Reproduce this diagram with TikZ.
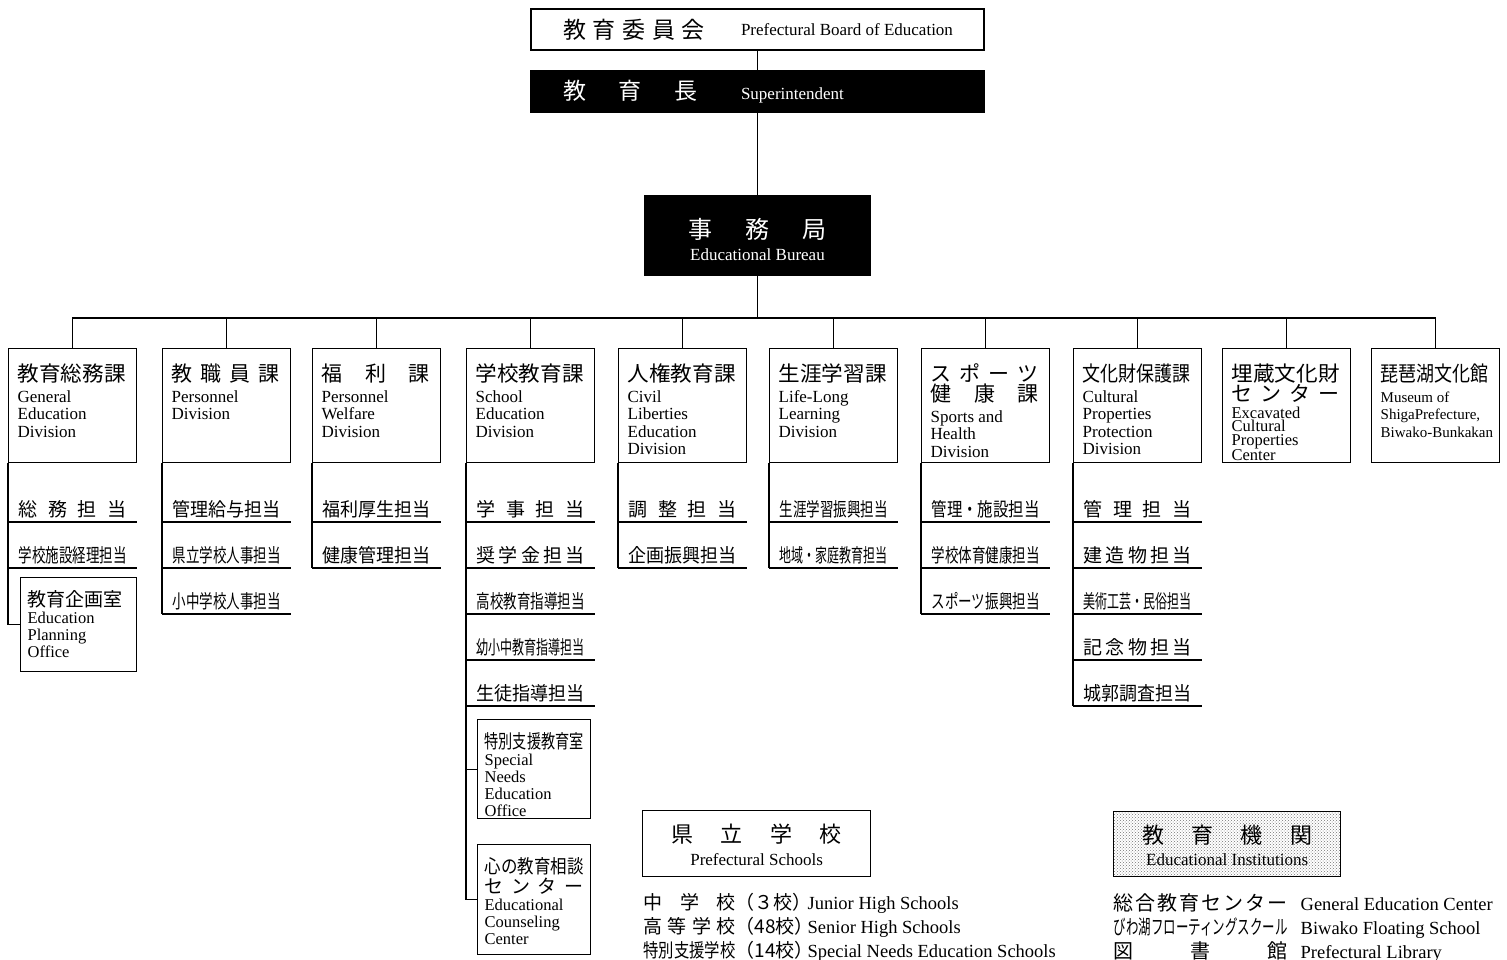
\documentclass[tikz,border=0pt]{standalone}
\usepackage{fontspec}
\setmainfont{Liberation Serif}
\newfontfamily\jp{Noto Sans CJK JP}
\usepackage{graphicx}
\usetikzlibrary{patterns}

% squeeze or spread a Japanese label to a given width
\newcommand{\fitjp}[2][108pt]{\resizebox{#1}{\height}{#2}}
\newcommand{\spreadjp}[2][108pt]{\makebox[#1][s]{#2}}
% text of a division box and of an office box
\newcommand{\divtext}[2]{\parbox[t][114pt][t]{110pt}{\raggedright
  \jp\fontsize{21}{20}\selectfont\rule{0pt}{33pt}#1\par\vspace{3pt}
  \rmfamily\fontsize{17}{17.5}\selectfont #2}}
\newcommand{\officetext}[4][99pt]{\parbox[t][#2][t]{#1}{\raggedright
  \jp\fontsize{19}{20}\selectfont\rule{0pt}{29pt}#3\par
  \rmfamily\fontsize{16.5}{17}\selectfont #4}}

\begin{document}
\begin{tikzpicture}[x=1pt,y=-1pt,line width=1.3pt,
  head/.style={draw,minimum width=453pt,minimum height=41pt,inner sep=0pt},
  divbox/.style={draw,anchor=north west,inner xsep=9pt,inner ysep=0pt},
  duty/.style={anchor=south west,minimum width=128pt,inner xsep=10pt,inner ysep=3pt,
    font=\jp\fontsize{19}{19}\selectfont},
  office/.style={draw,anchor=north west,inner xsep=7pt,inner ysep=0pt},
  listrow/.style={anchor=base west,inner sep=0pt,font=\fontsize{18.5}{20}\selectfont}]
\useasboundingbox (0,0) rectangle (1507,960);

% board, superintendent, bureau
\node[head] (board) at (757.5,29.5) {\makebox[389pt][l]{\jp\fontsize{23}{23}\selectfont
  \spreadjp[142pt]{教\hfill 育\hfill 委\hfill 員\hfill 会}\hspace{36pt}\rmfamily
  \fontsize{17}{17}\selectfont\raisebox{3pt}{Prefectural Board of Education}}};
\node[head,fill=black,text=white] (supt) at (757.5,91.5) {\makebox[389pt][l]{\jp
  \fontsize{23}{23}\selectfont\spreadjp[134pt]{教\hfill 育\hfill 長}\hspace{44pt}\rmfamily
  \fontsize{17}{17}\selectfont Superintendent}};
\node[draw,fill=black,text=white,inner sep=0pt] (bureau) at (757.5,235.5)
  {\parbox[t][79pt][t]{225pt}{\centering\jp\fontsize{24}{24}\selectfont\rule{0pt}{42pt}%
  \spreadjp[138pt]{事\hfill 務\hfill 局}\par\rmfamily\fontsize{17}{22}\selectfont
  Educational Bureau}};
\coordinate (bus) at (757.5,318);
\draw (board) -- (supt);
\draw (supt) -- (bureau);
\draw (bureau) -- (bus);

% divisions
\node[divbox] (gen) at (8,348) {\divtext{\fitjp{教育総務課}}{General\\Education\\Division}};
\node[divbox] (pers) at (162,348) {\divtext{\spreadjp{教\hfill 職\hfill 員\hfill 課}}{Personnel\\Division}};
\node[divbox] (welf) at (312,348) {\divtext{\spreadjp{福\hfill 利\hfill 課}}{Personnel\\Welfare\\Division}};
\node[divbox] (school) at (466,348) {\divtext{\fitjp{学校教育課}}{School\\Education\\Division}};
\node[divbox] (civil) at (618,348) {\divtext{\fitjp{人権教育課}}{Civil\\Liberties\\Education\\Division}};
\node[divbox] (life) at (769,348) {\divtext{\fitjp{生涯学習課}}{Life-Long\\Learning\\Division}};
\node[divbox] (sport) at (921,348) {\divtext{\spreadjp{ス\hfill ポ\hfill ー\hfill ツ}\\
  \spreadjp{健\hfill 康\hfill 課}}{Sports and\\Health\\Division}};
\node[divbox] (cult) at (1073,348) {\divtext{\fitjp{文化財保護課}}{Cultural\\Properties\\Protection\\Division}};
\node[divbox] (exc) at (1222,348) {\divtext{\fitjp{埋蔵文化財}\\\spreadjp{セ\hfill ン\hfill タ\hfill ー}}
  {\fontsize{16.5}{13.5}\selectfont Excavated\\Cultural\\Properties\\Center}};
\node[divbox] (mus) at (1371,348) {\divtext{\fitjp{琵琶湖文化館}}
  {\fontsize{15}{17.5}\selectfont Museum of\\ShigaPrefecture,\\\mbox{Biwako-Bunkakan}}};
\draw (gen.north) -- (gen.north |- bus) -- (mus.north |- bus) -- (mus.north);
\foreach \d in {pers,welf,school,civil,life,sport,cult,exc}
  \draw (\d.north) -- (\d.north |- bus);

% sections under each division
\foreach \t [count=\i] in {{\spreadjp{総\hfill 務\hfill 担\hfill 当}},{\fitjp{学校施設経理担当}}}
  {\node[duty] (gen\i) at (8,476+46*\i) {\t};
   \draw (gen\i.south west) -- (gen\i.south east);}
\foreach \t [count=\i] in {{\fitjp{管理給与担当}},{\fitjp{県立学校人事担当}},{\fitjp{小中学校人事担当}}}
  {\node[duty] (pers\i) at (162,476+46*\i) {\t};
   \draw (pers\i.south west) -- (pers\i.south east);}
\foreach \t [count=\i] in {{\fitjp{福利厚生担当}},{\fitjp{健康管理担当}}}
  {\node[duty] (welf\i) at (312,476+46*\i) {\t};
   \draw (welf\i.south west) -- (welf\i.south east);}
\foreach \t [count=\i] in {{\spreadjp{学\hfill 事\hfill 担\hfill 当}},
    {\spreadjp{奨\hfill 学\hfill 金\hfill 担\hfill 当}},{\fitjp{高校教育指導担当}},
    {\fitjp{幼小中教育指導担当}},{\fitjp{生徒指導担当}}}
  {\node[duty] (school\i) at (466,476+46*\i) {\t};
   \draw (school\i.south west) -- (school\i.south east);}
\foreach \t [count=\i] in {{\spreadjp{調\hfill 整\hfill 担\hfill 当}},{\fitjp{企画振興担当}}}
  {\node[duty] (civil\i) at (618,476+46*\i) {\t};
   \draw (civil\i.south west) -- (civil\i.south east);}
\foreach \t [count=\i] in {{\fitjp{生涯学習振興担当}},{\fitjp{地域・家庭教育担当}}}
  {\node[duty] (life\i) at (769,476+46*\i) {\t};
   \draw (life\i.south west) -- (life\i.south east);}
\foreach \t [count=\i] in {{\fitjp{管理・施設担当}},{\fitjp{学校体育健康担当}},{\fitjp{スポーツ振興担当}}}
  {\node[duty] (sport\i) at (921,476+46*\i) {\t};
   \draw (sport\i.south west) -- (sport\i.south east);}
\foreach \t [count=\i] in {{\spreadjp{管\hfill 理\hfill 担\hfill 当}},
    {\spreadjp{建\hfill 造\hfill 物\hfill 担\hfill 当}},{\fitjp{美術工芸・民俗担当}},
    {\spreadjp{記\hfill 念\hfill 物\hfill 担\hfill 当}},{\fitjp{城郭調査担当}}}
  {\node[duty] (cult\i) at (1073,476+46*\i) {\t};
   \draw (cult\i.south west) -- (cult\i.south east);}

% offices
\node[office] (plan) at (20,577) {\officetext[102pt]{94pt}{\fitjp[95pt]{教育企画室}}
  {Education\\Planning\\Office}};
\node[office] (sn) at (477,719) {\officetext{99pt}{\fitjp[99pt]{特別支援教育室}}
  {Special\\Needs\\Education\\Office}};
\node[office] (counsel) at (477,844) {\officetext{110pt}{\fitjp[99pt]{心の教育相談}\\
  \spreadjp[99pt]{セ\hfill ン\hfill タ\hfill ー}}{Educational\\Counseling\\Center}};

\draw (gen.south west) |- (plan.west);
\draw (pers.south west) -- (pers3.south west);
\draw (welf.south west) -- (welf2.south west);
\draw (school.south west) |- (counsel.west);
\draw (sn.west) -- (sn.west -| school.south west);
\draw (civil.south west) -- (civil2.south west);
\draw (life.south west) -- (life2.south west);
\draw (sport.south west) -- (sport3.south west);
\draw (cult.south west) -- (cult5.south west);

% prefectural schools
\node[draw,anchor=north west,inner sep=0pt] (pref) at (642,810)
  {\parbox[t][66pt][t]{228pt}{\centering\jp\fontsize{22}{22}\selectfont\rule{0pt}{32pt}%
  \spreadjp[170pt]{県\hfill 立\hfill 学\hfill 校}\par\rmfamily\fontsize{17}{23}\selectfont
  Prefectural Schools}};
\node[listrow] (jhs) at (643,909) {{\jp\fontsize{19}{19}\selectfont
  \spreadjp[92pt]{中\hfill 学\hfill 校}\makebox[72pt][l]{（３校）}}Junior High Schools};
\node[listrow] (shs) at (643,933) {{\jp\fontsize{19}{19}\selectfont
  \spreadjp[92pt]{高\hfill 等\hfill 学\hfill 校}\makebox[72pt][l]{（48校）}}Senior High Schools};
\node[listrow] (sns) at (643,957) {{\jp\fontsize{19}{19}\selectfont
  \fitjp[92pt]{特別支援学校}\makebox[72pt][l]{（14校）}}Special Needs Education Schools};

% educational institutions
\node[draw,anchor=north west,inner sep=0pt,pattern=crosshatch dots,pattern color=black!55]
  (inst) at (1113,811) {\parbox[t][65pt][t]{227pt}{\centering\jp\fontsize{22}{22}\selectfont
  \rule{0pt}{32pt}\spreadjp[170pt]{教\hfill 育\hfill 機\hfill 関}\par\rmfamily
  \fontsize{17}{22}\selectfont Educational Institutions}};
\node[listrow] (gec) at (1113,910) {{\jp\fontsize{20}{20}\selectfont
  \spreadjp[174pt]{総\hfill 合\hfill 教\hfill 育\hfill セ\hfill ン\hfill タ\hfill ー}}%
  \hspace{13pt}General Education Center};
\node[listrow] (bfs) at (1113,934) {{\jp\fontsize{20}{20}\selectfont
  \fitjp[174pt]{びわ湖フローティングスクール}}\hspace{13pt}Biwako Floating School};
\node[listrow] (lib) at (1113,958) {{\jp\fontsize{20}{20}\selectfont
  \spreadjp[174pt]{図\hfill 書\hfill 館}}\hspace{13pt}Prefectural Library};
\end{tikzpicture}
\end{document}
